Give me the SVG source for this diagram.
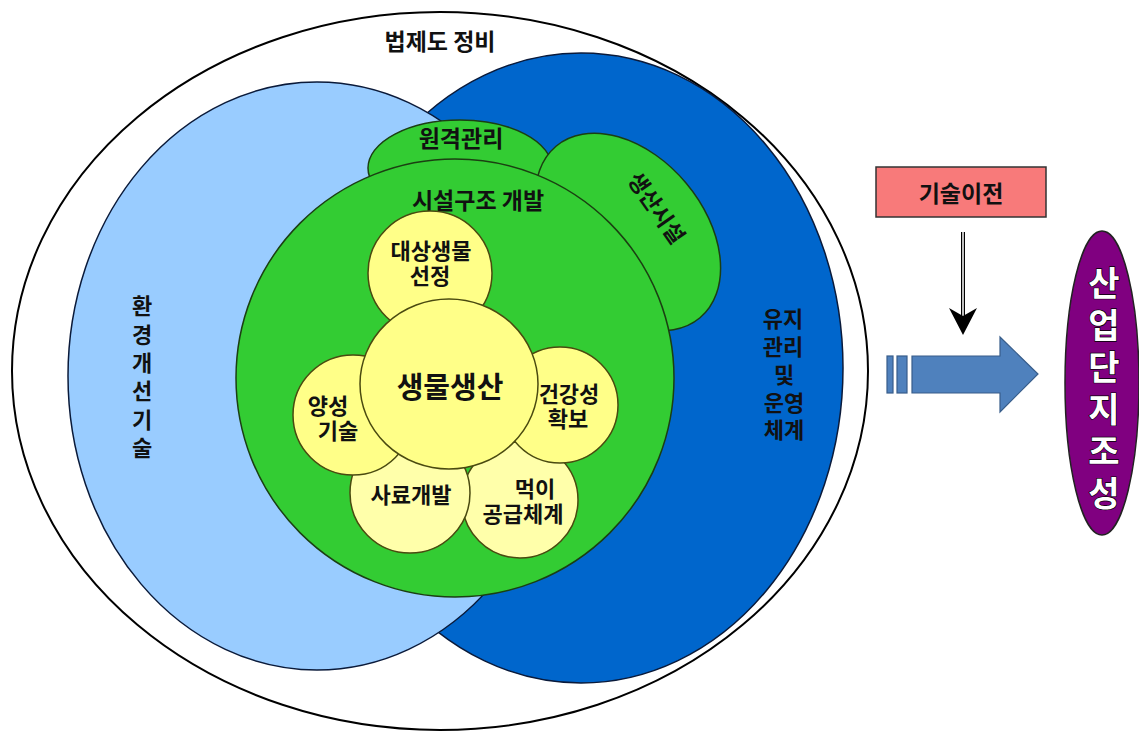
<svg xmlns="http://www.w3.org/2000/svg" width="1139" height="731" viewBox="0 0 1139 731">
<defs>
<style>
text{font-family:"Noto Sans CJK KR","Noto Sans",sans-serif;font-weight:bold;fill:#111;text-anchor:middle;dominant-baseline:central}
.t22{font-size:22px}
.t23{font-size:23px}
.t29{font-size:29px}
.vert{writing-mode:vertical-rl;text-orientation:upright}
.green{fill:#33CC33;stroke:#1B3F12;stroke-width:1.5}
.yel{fill:#FFFF88;stroke:#4A4A10;stroke-width:1.5}
.yel2{fill:#FFFFAA;stroke:#4A4A10;stroke-width:1.5}
.big{font-size:34px;fill:#fff;stroke:#000;stroke-width:1.3;paint-order:stroke}
</style>
</defs>
<rect width="1139" height="731" fill="#fff"/>
<g id="outer">
<ellipse cx="440" cy="371" rx="428" ry="359" fill="#fff" stroke="#000" stroke-width="2"/>
<text class="t23" x="440" y="40">법제도 정비</text>
</g>
<g id="maintenance">
<ellipse cx="581" cy="368" rx="262" ry="315" fill="#0066CC" stroke="#0A1A3A" stroke-width="1.5"/>
<text class="t22"><tspan x="783" y="317">유지</tspan><tspan x="783" y="345">관리</tspan><tspan x="784" y="373">및</tspan><tspan x="784" y="401">운영</tspan><tspan x="784" y="428">체계</tspan></text>
</g>
<g id="environment">
<ellipse cx="317" cy="376" rx="249" ry="294" fill="#99CCFF" stroke="#0A1A3A" stroke-width="1.5"/>
<text class="t22 vert" x="142" y="380" letter-spacing="6.4">환경개선기술</text>
</g>
<g id="remote">
<ellipse class="green" cx="460" cy="168" rx="92" ry="48"/>
</g>
<g id="production-facility">
<ellipse class="green" cx="628" cy="232" rx="112" ry="76" transform="rotate(50 628 232)"/>
</g>
<g id="facility">
<circle class="green" cx="455" cy="378" r="219"/>
</g>
<g id="labels-green">
<text class="t23" x="461" y="137">원격관리</text>
<text class="t23" x="478" y="199">시설구조 개발</text>
<text class="t22" x="658" y="207" transform="rotate(55 658 207)">생산시설</text>
</g>
<g id="feed-supply">
<circle class="yel2" cx="520" cy="500" r="58"/>
</g>
<g id="health">
<circle class="yel" cx="560" cy="405" r="58"/>
</g>
<g id="feed-dev">
<circle class="yel2" cx="410" cy="493" r="60"/>
</g>
<g id="culture">
<circle class="yel" cx="353" cy="415" r="60"/>
</g>
<g id="target">
<circle class="yel" cx="430" cy="273" r="62"/>
</g>
<g id="bio">
<ellipse class="yel" cx="449" cy="384" rx="89" ry="85"/>
</g>
<g id="yellow-labels">
<text class="t22"><tspan x="431" y="249">대상생물</tspan><tspan x="430" y="274">선정</tspan></text>
<text class="t29" x="450" y="385">생물생산</text>
<text class="t22"><tspan x="328" y="404">양성</tspan><tspan x="338" y="429">기술</tspan></text>
<text class="t22"><tspan x="569" y="392">건강성</tspan><tspan x="568" y="417">확보</tspan></text>
<text class="t22" x="411" y="493">사료개발</text>
<text class="t22"><tspan x="535" y="487">먹이</tspan><tspan x="523" y="512">공급체계</tspan></text>
</g>
<g id="tech-transfer">
<rect x="876" y="167" width="170" height="50" fill="#F87A7A" stroke="#333" stroke-width="1.5"/>
<text class="t23" x="961" y="192">기술이전</text>
</g>
<g id="industrial-complex">
<ellipse cx="1102" cy="383" rx="37" ry="152" fill="#800080" stroke="#222" stroke-width="1.5"/>
<text class="big vert" x="1104" y="392" letter-spacing="8">산업단지조성</text>
</g>
<g id="connectors">
<line x1="963" y1="232" x2="963" y2="318" stroke="#000" stroke-width="4"/>
<line x1="963" y1="232" x2="963" y2="318" stroke="#fff" stroke-width="1.5"/>
<path d="M949 308 L963 335 L977 308 L963 316 Z" fill="#000"/>
<rect x="887" y="356" width="6" height="37" fill="#4F81BD" stroke="#385D8A" stroke-width="1.2"/>
<rect x="897" y="356" width="10" height="37" fill="#4F81BD" stroke="#385D8A" stroke-width="1.2"/>
<path d="M912 356 L1000 356 L1000 337 L1038 374 L1000 412 L1000 393 L912 393 Z" fill="#4F81BD" stroke="#385D8A" stroke-width="1.2"/>
</g>
</svg>
